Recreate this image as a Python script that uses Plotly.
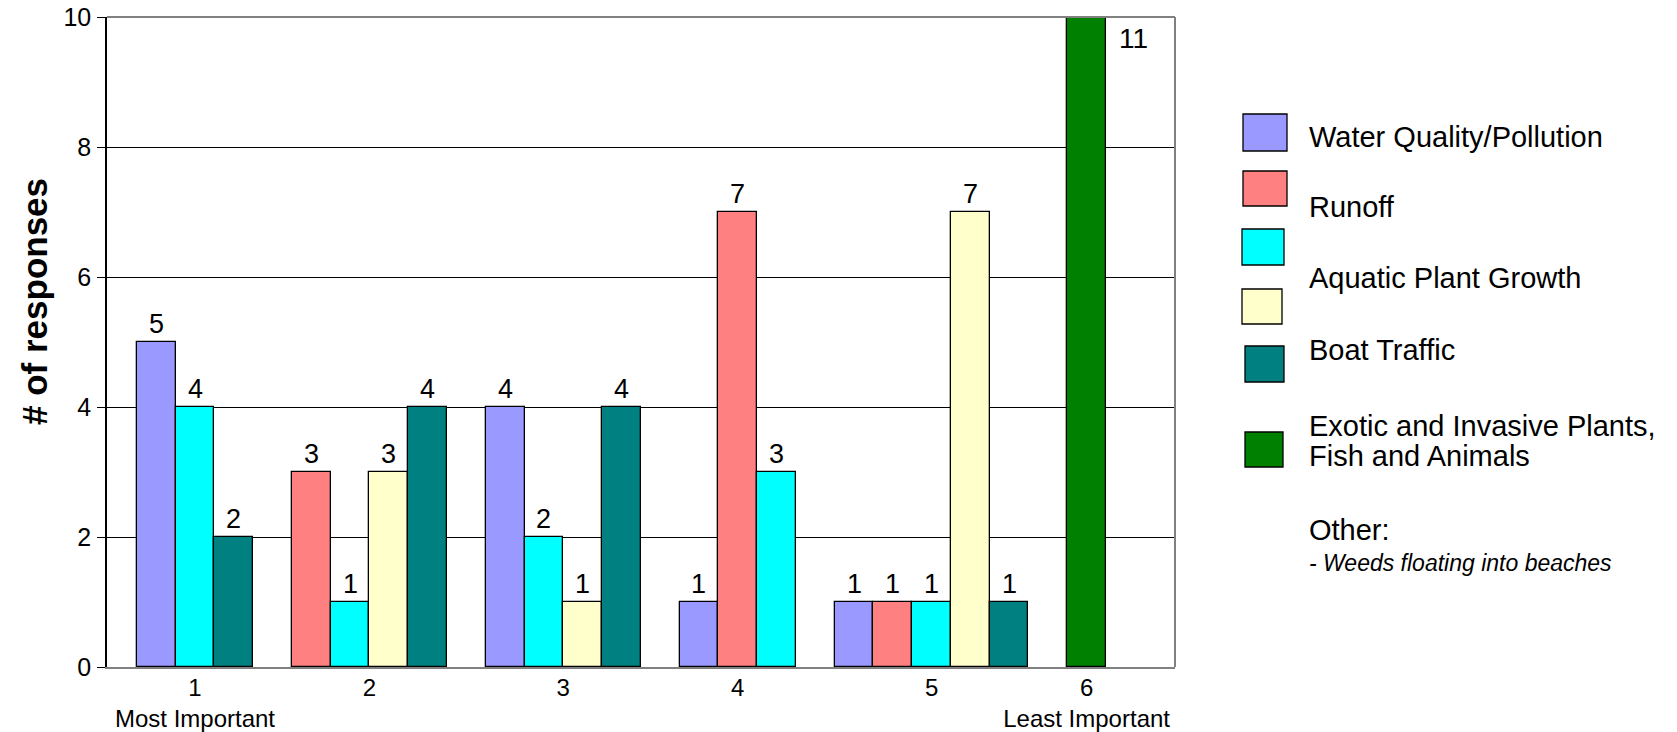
import plotly.graph_objects as go

# ---------------- data ----------------
categories = ["1", "2", "3", "4", "5", "6"]
category_notes = ["Most Important", "", "", "", "", "Least Important"]

series_colors = ["#9999FF", "#FF8080", "#00FFFF", "#FFFFCC", "#008080", "#008000"]
water_quality = [5, 0, 4, 1, 1, 0]
runoff = [0, 3, 0, 7, 1, 0]
aquatic_growth = [4, 1, 2, 3, 1, 0]
boat_traffic = [0, 3, 1, 0, 7, 0]
exotic_invasive = [2, 4, 4, 0, 1, 0]
other = [0, 0, 0, 0, 0, 11]
series_values = [water_quality, runoff, aquatic_growth, boat_traffic, exotic_invasive, other]

legend_lines = ["Water Quality/Pollution", "Runoff", "Aquatic Plant Growth", "Boat Traffic",
                "Exotic and Invasive Plants,", "Fish and Animals", "Other:"]
other_note = "- Weeds floating into beaches"

y_max = 10
FONT = "Liberation Sans, Arial, sans-serif"

# ---------------- geometry of the page ----------------
W, H = 1677, 732
ML, MR, MT, MB = 107, 502, 17, 65
PW = W - ML - MR
PH = H - MT - MB


def px_x(px):
    return (px - ML) / PW


def px_y(py):
    return (H - MB - py) / PH


# ---------------- bar slots (non-zero bars only, one empty slot between groups) ----------------
bar_x = [[] for _ in series_values]
bar_y = [[] for _ in series_values]
tickvals = []
slot = 0
for c in range(len(categories)):
    start = slot
    for s, vals in enumerate(series_values):
        v = vals[c]
        if v:
            bar_x[s].append(slot)
            bar_y[s].append(v)
            slot += 1
    tickvals.append((start + slot - 1) / 2)
    slot += 1

fig = go.Figure()
annotations = []
for s, color in enumerate(series_colors):
    fig.add_trace(go.Bar(
        x=bar_x[s], y=bar_y[s], width=1,
        marker=dict(color=color, line=dict(color="black", width=1.3)),
        showlegend=False, hoverinfo="x+y",
    ))
    for xv, yv in zip(bar_x[s], bar_y[s]):
        if yv <= y_max:
            annotations.append(dict(x=xv, y=yv, xref="x", yref="y", text=str(yv),
                                    showarrow=False, yanchor="bottom", xanchor="center",
                                    yshift=1, font=dict(size=27, color="black", family=FONT)))
        else:
            annotations.append(dict(x=xv + 1.2, y=y_max, xref="x", yref="y", text=str(yv),
                                    showarrow=False, yanchor="middle", xanchor="center",
                                    yshift=-21, font=dict(size=28, color="black", family=FONT)))

ticktext = [c if not n else f"{c}<br>{n}" for c, n in zip(categories, category_notes)]

# y-axis title
annotations.append(dict(x=px_x(34), y=px_y(302), xref="paper", yref="paper",
                        text="<b># of responses</b>", textangle=-90, showarrow=False,
                        xanchor="center", yanchor="middle",
                        font=dict(size=35, color="black", family=FONT)))

# ---------------- legend (drawn manually) ----------------
legend_boxes = [(1243, 114, 1287, 151), (1243, 171, 1287, 206), (1242, 229, 1284, 265),
                (1242, 289, 1282, 324), (1245, 346, 1284, 382), (1245, 432, 1283, 467)]
shapes = []
for (x0, y0, x1, y1), color in zip(legend_boxes, series_colors):
    shapes.append(dict(type="rect", xref="paper", yref="paper",
                       x0=px_x(x0), x1=px_x(x1), y0=px_y(y1), y1=px_y(y0),
                       fillcolor=color, line=dict(color="black", width=1.3)))

legend_text_y = [137, 207, 278, 350, 426, 456, 530]
for txt, ty in zip(legend_lines, legend_text_y):
    annotations.append(dict(x=px_x(1307), y=px_y(ty), xref="paper", yref="paper", text=txt,
                            showarrow=False, xanchor="left", yanchor="middle",
                            font=dict(size=29, color="black", family=FONT)))
annotations.append(dict(x=px_x(1307), y=px_y(563), xref="paper", yref="paper",
                        text=f"<i>{other_note}</i>", showarrow=False, xanchor="left",
                        yanchor="middle", font=dict(size=23, color="black", family=FONT)))

# plot-area border (top and right, gray)
shapes.append(dict(type="line", xref="paper", yref="paper", x0=0, x1=1, y0=1, y1=1,
                   line=dict(color="#808080", width=2)))
shapes.append(dict(type="line", xref="paper", yref="paper", x0=1, x1=1, y0=0, y1=1,
                   line=dict(color="#808080", width=2)))

fig.update_layout(
    width=W, height=H,
    margin=dict(l=ML, r=MR, t=MT, b=MB, pad=0, autoexpand=False),
    paper_bgcolor="white", plot_bgcolor="white",
    barmode="overlay", bargap=0,
    font=dict(family=FONT, color="black"),
    shapes=shapes, annotations=annotations,
    xaxis=dict(range=[-1.27, 26.28], tickmode="array", tickvals=tickvals, ticktext=ticktext,
               showgrid=False, zeroline=False, showline=True, linecolor="#808080", linewidth=2,
               ticks="", automargin=False, ticklabelstandoff=-2,
               tickfont=dict(size=24, family=FONT, color="black"), fixedrange=True),
    yaxis=dict(range=[0, y_max], tickmode="linear", tick0=0, dtick=2,
               showgrid=True, gridcolor="black", gridwidth=1, zeroline=False,
               showline=True, linecolor="black", linewidth=1.5,
               ticks="outside", ticklen=8, tickcolor="black", tickwidth=1,
               ticklabelstandoff=1, automargin=False,
               tickfont=dict(size=25, family=FONT, color="black"), fixedrange=True),
)

fig.write_html("out.html", config={"displayModeBar": False})
